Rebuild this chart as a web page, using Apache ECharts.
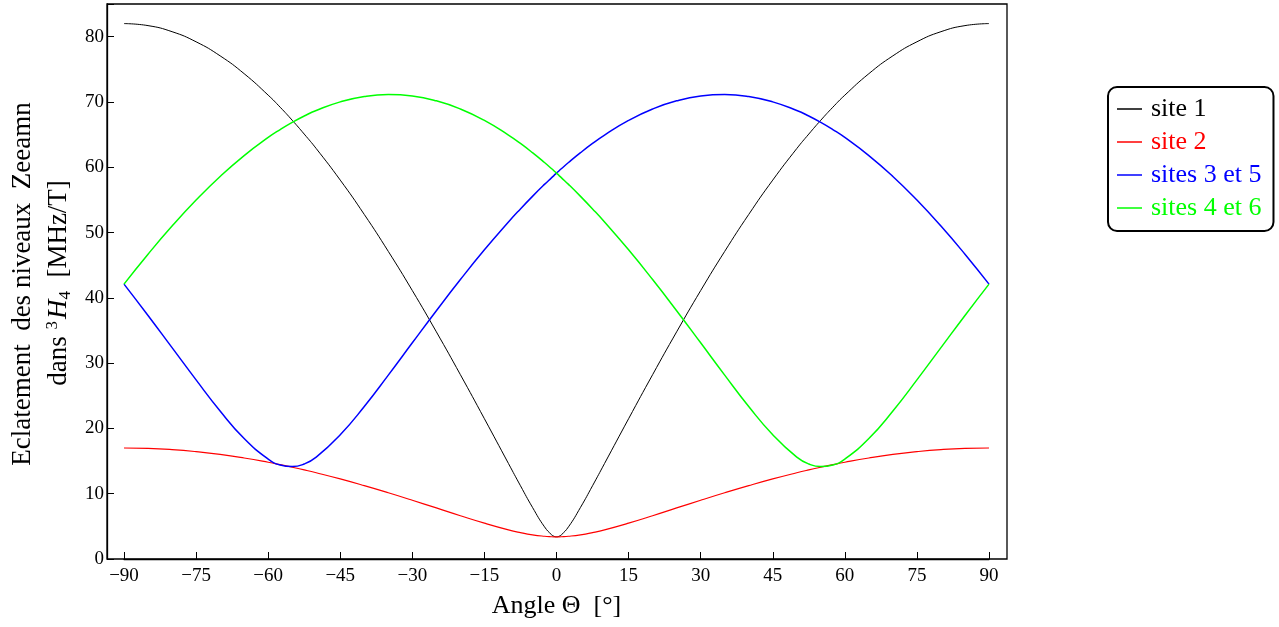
<!DOCTYPE html>
<html>
<head>
<meta charset="utf-8">
<script src="https://cdn.jsdelivr.net/npm/echarts@6/dist/echarts.min.js"></script>
<style>
  html, body { margin: 0; padding: 0; background: #fff; }
  #demo { width: 1279px; height: 627px; }
</style>
</head>
<body>
<div id="demo"></div>
<script>
// angles (degrees) and splitting values
var angles = [-90, -85, -80, -75, -70, -65, -60, -57.5, -55, -52.5, -50, -45, -40, -35, -30, -25, -20, -15, -10, -7.5, -5, -2.5, -1, -0.5, 0,
              0.5, 1, 2.5, 5, 7.5, 10, 15, 20, 25, 30, 35, 40, 45, 50, 52.5, 55, 57.5, 60, 65, 70, 75, 80, 85, 90];
var site1 = [82, 81.69, 80.76, 79.21, 77.06, 74.33, 71.04, 69.19, 67.2, 65.08, 62.86, 58.03, 52.77, 47.11, 41.11, 34.79, 28.23, 21.48, 14.63, 11.22, 7.91, 4.93, 3.69, 3.47, 3.4,
             3.47, 3.69, 4.93, 7.91, 11.22, 14.63, 21.48, 28.23, 34.79, 41.11, 47.11, 52.77, 58.03, 62.86, 65.08, 67.2, 69.19, 71.04, 74.33, 77.06, 79.21, 80.76, 81.69, 82];
var site2 = [17, 16.94, 16.75, 16.44, 16.02, 15.47, 14.82, 14.45, 14.06, 13.65, 13.21, 12.26, 11.23, 10.14, 9.0, 7.82, 6.63, 5.49, 4.46, 4.04, 3.7, 3.48, 3.41, 3.4, 3.4,
             3.4, 3.41, 3.48, 3.7, 4.04, 4.46, 5.49, 6.63, 7.82, 9.0, 10.14, 11.23, 12.26, 13.21, 13.65, 14.06, 14.45, 14.82, 15.47, 16.02, 16.44, 16.75, 16.94, 17];
var sites35 = [42.1, 37.3, 32.37, 27.43, 22.67, 18.45, 15.3, 14.4, 14.15, 14.55, 15.6, 19.03, 23.36, 28.16, 33.11, 38.03, 42.8, 47.35, 51.61, 53.62, 55.54, 57.37, 58.41, 58.76, 59.09,
               59.43, 59.76, 60.72, 62.23, 63.64, 64.93, 67.17, 68.92, 70.17, 70.91, 71.13, 70.83, 70.01, 68.69, 67.84, 66.87, 65.77, 64.56, 61.79, 58.59, 54.97, 50.99, 46.68, 42.1];
var sites46 = [42.1, 46.68, 50.99, 54.97, 58.59, 61.79, 64.56, 65.77, 66.87, 67.84, 68.69, 70.01, 70.83, 71.13, 70.91, 70.17, 68.92, 67.17, 64.93, 63.64, 62.23, 60.72, 59.76, 59.43, 59.09,
               58.76, 58.41, 57.37, 55.54, 53.62, 51.61, 47.35, 42.8, 38.03, 33.11, 28.16, 23.36, 19.03, 15.6, 14.55, 14.15, 14.4, 15.3, 18.45, 22.67, 27.43, 32.37, 37.3, 42.1];
var names = ['site 1', 'site 2', 'sites 3 et 5', 'sites 4 et 6'];
var colors = ['#000000', '#ff0000', '#0000ff', '#00ff00'];
var widths = [1, 1.2, 1.5, 1.5];

var FONT = 'Liberation Serif';
var myChart = echarts.init(document.getElementById('demo'));

function pairs(vals) {
    return angles.map(function (a, i) { return [a, vals[i]]; });
}
var allVals = [site1, site2, sites35, sites46];

var series = names.map(function (n, i) {
    return {
        name: n,
        type: 'line',
        data: pairs(allVals[i]),
        showSymbol: false,
        symbol: 'none',
        smooth: 0.5,
        lineStyle: { color: colors[i], width: widths[i] },
        itemStyle: { color: colors[i] }
    };
});

option = {
    backgroundColor: '#fff',
    animation: false,
    grid: {
        left: 124,
        right: 290,
        top: 4,
        bottom: 68
    },
    legend: {
        orient: 'vertical',
        left: 1108,
        top: 87,
        padding: [9, 12, 10, 9],
        itemGap: 7,
        itemWidth: 25,
        itemHeight: 1.5,
        icon: 'rect',
        borderColor: '#000',
        borderWidth: 2,
        borderRadius: 9,
        textStyle: { fontFamily: FONT, fontSize: 26, lineHeight: 26, padding: [0, 0, 0, 4] },
        data: names.map(function (n, i) {
            return { name: n, textStyle: { color: colors[i] } };
        })
    },
    xAxis: {
        type: 'value',
        min: -90,
        max: 90,
        interval: 15,
        name: 'Angle Θ  [°]',
        nameLocation: 'middle',
        nameGap: 34,
        nameTextStyle: { fontFamily: FONT, fontSize: 26, color: '#000' },
        axisLine: { show: true, lineStyle: { color: '#000', width: 1.3 } },
        axisTick: { show: true, inside: true, length: 7, lineStyle: { color: '#000' } },
        splitLine: { show: false },
        axisLabel: {
            margin: 8,
            fontFamily: FONT,
            fontSize: 19,
            color: '#000',
            formatter: function (v) {
                return String(v).replace('-', '\u2212');
            }
        }
    },
    yAxis: {
        type: 'value',
        min: 0,
        max: 85,
        interval: 10,
        offset: 17,
        axisLine: { show: true, onZero: false, lineStyle: { color: '#000', width: 1.3 } },
        axisTick: { show: true, inside: true, length: 7, lineStyle: { color: '#000' } },
        splitLine: { show: false },
        axisLabel: {
            margin: 3,
            fontFamily: FONT,
            fontSize: 19,
            color: '#000',
            formatter: function (v) {
                return v % 10 === 0 ? String(v) : '';
            }
        }
    },
    graphic: [
        {
            // frame round the plot
            type: 'rect',
            shape: { x: 107, y: 4, width: 900, height: 555 },
            style: { fill: null, stroke: '#000', lineWidth: 1.3 },
            silent: true
        },
        {
            type: 'text',
            x: 23,
            y: 284,
            rotation: Math.PI / 2,
            style: {
                text: 'Eclatement  des niveaux  Zeeamn',
                font: '27px "Liberation Serif"',
                fill: '#000',
                align: 'center',
                verticalAlign: 'middle'
            }
        },
        {
            type: 'text',
            x: 59,
            y: 283,
            rotation: Math.PI / 2,
            style: {
                text: '{n|dans }{sup|3}{it|H}{sub|4}{n|  [MHz/T]}',
                align: 'center',
                verticalAlign: 'middle',
                fill: '#000',
                rich: {
                    n: { fontFamily: FONT, fontSize: 27, lineHeight: 30, fill: '#000' },
                    it: { fontFamily: FONT, fontSize: 27, fontStyle: 'italic', lineHeight: 30, fill: '#000' },
                    sup: { fontFamily: FONT, fontSize: 17, lineHeight: 30, verticalAlign: 'top', padding: [0, 2, 0, 0], fill: '#000' },
                    sub: { fontFamily: FONT, fontSize: 17, lineHeight: 30, verticalAlign: 'bottom', fill: '#000' }
                }
            }
        }
    ],
    series: series
};

myChart.setOption(option);
</script>
</body>
</html>
